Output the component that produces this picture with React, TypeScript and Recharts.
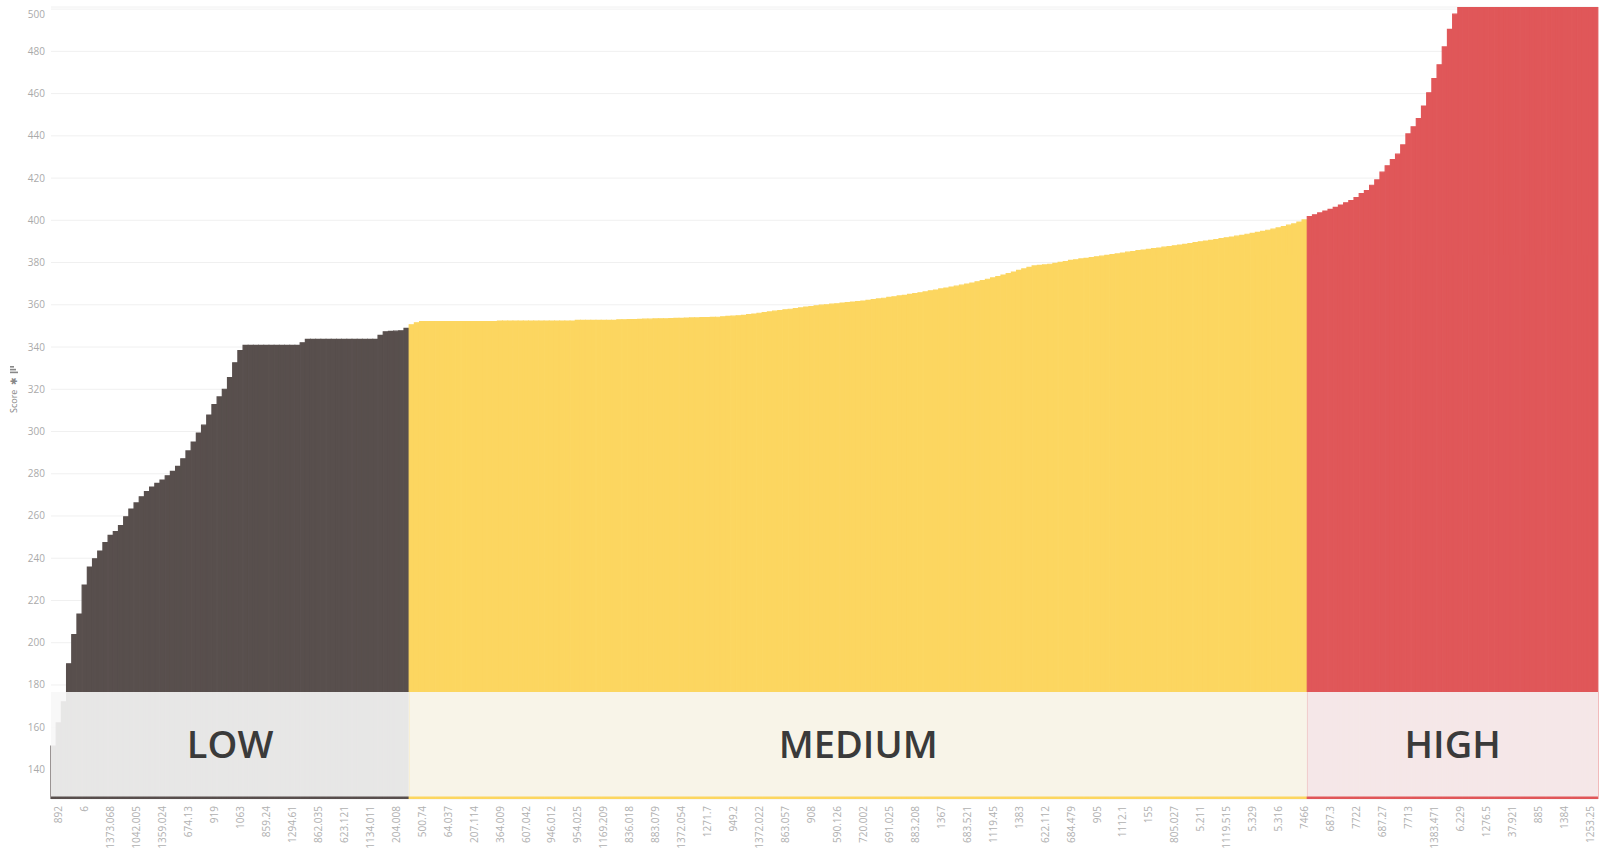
import { Bar, BarChart, CartesianGrid, Cell, ReferenceArea, XAxis, YAxis } from "recharts"

// scores sorted ascending, one bar per record
const lowScores = [
  151, 162, 172, 190, 203.8, 213.6, 227.3, 235.8, 239.7, 243.4,
  247.4, 250.8, 252.6, 255.5, 259.6, 263.3, 266.2, 269.1, 271.6, 273.7,
  275.4, 277, 279, 281.1, 283.5, 287.1, 290.8, 295, 299.3, 303,
  307.8, 312.7, 316.4, 320, 325.5, 332.5, 338.3, 340.8, 340.8, 340.8,
  340.8, 340.8, 340.8, 340.8, 340.8, 340.8, 340.8, 340.8, 342, 343.6,
  343.6, 343.6, 343.6, 343.6, 343.6, 343.6, 343.6, 343.6, 343.6, 343.6,
  343.6, 343.6, 343.6, 345.5, 347.2, 347.4, 347.5, 347.7, 348.8,
]

const mediumScores = [
  350.5, 351.5, 352, 352, 352, 352, 352, 352, 352, 352,
  352, 352, 352, 352, 352, 352, 352, 352.3, 352.3, 352.3,
  352.3, 352.3, 352.3, 352.3, 352.3, 352.3, 352.3, 352.3, 352.3, 352.3,
  352.3, 352.3, 352.6, 352.6, 352.6, 352.6, 352.6, 352.6, 352.6, 352.6,
  352.9, 352.9, 353, 353, 353.1, 353.2, 353.2, 353.3, 353.4, 353.4,
  353.5, 353.6, 353.6, 353.7, 353.8, 353.8, 353.9, 353.9, 354, 354.1,
  354.3, 354.5, 354.6, 354.8, 355, 355.3, 355.6, 356, 356.3, 356.6,
  357, 357.3, 357.6, 357.9, 358.2, 358.5, 358.9, 359.2, 359.5, 359.8,
  360, 360.3, 360.5, 360.8, 361, 361.3, 361.5, 361.8, 362.1, 362.4,
  362.8, 363.1, 363.5, 363.8, 364.2, 364.5, 364.9, 365.3, 365.7, 366.1,
  366.6, 367, 367.5, 367.9, 368.4, 368.8, 369.3, 369.8, 370.3, 370.9,
  371.5, 372.1, 372.7, 373.3, 374.1, 374.8, 375.5, 376.3, 377, 377.7,
  378.4, 378.7, 378.9, 379.2, 379.6, 380.1, 380.5, 381, 381.3, 381.7,
  382, 382.3, 382.7, 383, 383.4, 383.8, 384.1, 384.5, 384.9, 385.2,
  385.6, 385.9, 386.2, 386.6, 386.9, 387.3, 387.6, 387.9, 388.3, 388.6,
  389, 389.4, 389.8, 390.2, 390.5, 390.9, 391.3, 391.7, 392.1, 392.5,
  392.9, 393.4, 393.8, 394.3, 394.8, 395.3, 395.8, 396.4, 397, 397.7,
  398.3, 399.2, 400.2,
]

const highScores = [
  401.7, 402.6, 403.5, 404.4, 405.2, 406.1, 407.2, 408.3, 409.3, 410.8,
  412.6, 414.1, 416.6, 419.1, 422.8, 425.8, 428.7, 431.3, 435.7, 440.9,
  444.3, 448.1, 454.1, 460.4, 467.1, 473.6, 482.1, 490.4, 497.6, 501,
  501, 501, 501, 501, 501, 501, 501, 501, 501, 501,
  501, 501, 501, 501, 501, 501, 501, 501, 501, 501,
  501, 501, 501, 501, 501, 501,
]

// every 5th record gets a label on the axis
const tickLabels = [
  "892", "6", "1373.068", "1042.005", "1359.024", "674.13", "919", "1063", "859.24", "1294.61",
  "862.035", "623.121", "1134.011", "204.008", "500.74", "64.037", "207.114", "364.009", "607.042", "946.012",
  "954.025", "1169.209", "836.018", "883.079", "1372.054", "1271.7", "949.2", "1372.022", "863.057", "908",
  "590.126", "720.002", "691.025", "883.208", "1367", "683.521", "1119.45", "1383", "622.112", "684.479",
  "905", "1112.1", "155", "805.027", "5.211", "1119.515", "5.329", "5.316", "7466", "687.3",
  "7722", "687.27", "7713", "1383.471", "6.229", "1276.5", "37.921", "885", "1384", "1253.25",
]

const scoreTicks = [140, 160, 180, 200, 220, 240, 260, 280, 300, 320, 340, 360, 380, 400, 420, 440, 460, 480, 500]

const tiers = [
  { name: "LOW", scores: lowScores, color: "#584f4d" },
  { name: "MEDIUM", scores: mediumScores, color: "#fcd660" },
  { name: "HIGH", scores: highScores, color: "#e05759" },
]

const data = tiers
  .flatMap((t) => t.scores.map((score) => ({ score, color: t.color })))
  .map((d, i) => ({ ...d, rank: i }))

const labelRanks = tickLabels.map((_, i) => 1 + i * 5)

let start = 0
const bands = tiers.map((t) => {
  const band = { name: t.name, x1: start, x2: start + t.scores.length - 1 }
  start += t.scores.length
  return band
})

const font = "'Open Sans', sans-serif"

function RankTick({ x, y, payload }: any) {
  const label = tickLabels[(payload.value - 1) / 5]
  return (
    <text
      x={x}
      y={y}
      dy={3.5}
      transform={`rotate(-90, ${x}, ${y})`}
      textAnchor="end"
      fontSize={10}
      fill="#b0b0b0"
      fontFamily={font}
    >
      {label}
    </text>
  )
}

function ScoreTick({ x, y, payload }: any) {
  return (
    <text
      x={x}
      y={payload.value === 500 ? y + 5 : y}
      dy={3.5}
      textAnchor="end"
      fontSize={10}
      fill="#aaaaaa"
      fontFamily={font}
    >
      {payload.value}
    </text>
  )
}

function ScoreLabel() {
  return (
    <g fill="#888888">
      <text x={17} y={413} transform="rotate(-90, 17, 413)" fontSize={9} fontFamily={font}>
        Score
      </text>
      <text x={17} y={385} transform="rotate(-90, 17, 385)" fontSize={9} fontFamily={font}>
        ✱
      </text>
      <rect x={10} y={366} width={4} height={1.6} />
      <rect x={10} y={368.8} width={6} height={1.6} />
      <rect x={10} y={371.6} width={8} height={1.6} />
    </g>
  )
}

export default function App() {
  return (
    <div style={{ position: "absolute", left: 0, top: 0, width: 1601, height: 851, background: "#fff" }}>
      <BarChart
        width={1601}
        height={851}
        data={data}
        barCategoryGap={0}
        margin={{ top: 7, right: 3, bottom: 0, left: 0 }}
      >
        <CartesianGrid horizontal vertical={false} stroke="#f0f0f0" />
        <XAxis
          dataKey="rank"
          ticks={labelRanks}
          interval={0}
          tick={<RankTick />}
          tickLine={false}
          axisLine={false}
          tickSize={0}
          tickMargin={7}
          height={52}
        />
        <YAxis
          type="number"
          domain={[126, 501]}
          allowDataOverflow
          ticks={scoreTicks}
          tick={<ScoreTick />}
          tickLine={false}
          axisLine={false}
          tickSize={0}
          tickMargin={6}
          width={51}
          label={<ScoreLabel />}
        />
        <Bar dataKey="score" isAnimationActive={false}>
          {data.map((d) => (
            <Cell key={d.rank} fill={d.color} stroke={d.color} strokeWidth={1.2} />
          ))}
        </Bar>
        {bands.map((b) => (
          <ReferenceArea
            key={b.name}
            x1={b.x1}
            x2={b.x2}
            y1={127.2}
            y2={176.7}
            fill="#f7f7f7"
            fillOpacity={0.9}
            stroke="none"
            zIndex={1000}
            label={{
              value: b.name,
              position: "center",
              fontSize: 38,
              fontWeight: 600,
              fill: "#3a3a3a",
              fontFamily: font,
            }}
          />
        ))}
      </BarChart>
    </div>
  )
}
